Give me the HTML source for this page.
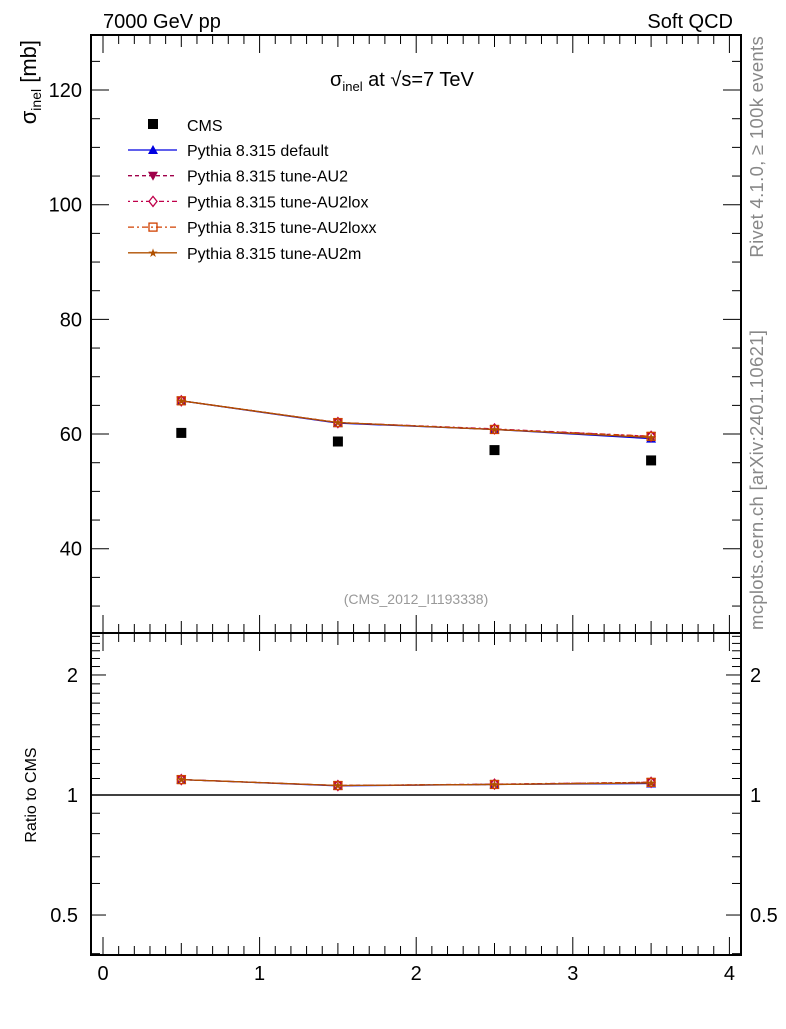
<!DOCTYPE html>
<html><head><meta charset="utf-8"><style>
body{margin:0;background:#fff;font-family:"Liberation Sans","DejaVu Sans",sans-serif}
svg text{font-family:"Liberation Sans","DejaVu Sans",sans-serif}
</style></head><body>
<svg id="c" width="786" height="1024" xmlns="http://www.w3.org/2000/svg">
<text x="103" y="28" font-size="20">7000 GeV pp</text>
<text x="733" y="28" font-size="20" text-anchor="end">Soft QCD</text>
<text x="330" y="86" font-size="20">σ<tspan font-size="13" dy="5">inel</tspan><tspan dy="-5"> at √s=7 TeV</tspan></text>
<text transform="translate(763,36) rotate(-90)" font-size="18.5" letter-spacing="0.3" fill="#888" text-anchor="end">Rivet 4.1.0, ≥ 100k events</text>
<text transform="translate(763,630) rotate(-90)" font-size="18.5" letter-spacing="0.3" fill="#888" text-anchor="start">mcplots.cern.ch [arXiv:2401.10621]</text>
<text x="416" y="604" font-size="14" fill="#999" text-anchor="middle">(CMS_2012_I1193338)</text>
<text transform="translate(36,40) rotate(-90)" font-size="22" text-anchor="end">σ<tspan font-size="14" dy="5">inel</tspan><tspan dy="-5"> [mb]</tspan></text>
<text transform="translate(36,795) rotate(-90)" font-size="16" text-anchor="middle">Ratio to CMS</text>
<g id="g"></g>
</svg>
<script>
const xCenters=[0.5,1.5,2.5,3.5];
const cms=[60.2,58.7,57.2,55.4];
const pDefault=[65.8,61.9,60.8,59.2];
const pAU2=[65.8,62.0,60.8,59.6];
const pAU2lox=[65.8,62.0,60.9,59.6];
const pAU2loxx=[65.8,62.0,60.8,59.6];
const pAU2m=[65.8,62.0,60.8,59.4];
const yTicks=[40,60,80,100,120];
const xTicks=[0,1,2,3,4];
const rTicks=[0.5,1,2];

const L=91,R=741,T=35,M=633,B=955;
const X=v=>103+v*156.6;
const Y=v=>T+(129.6-v)*(M-T)/(129.6-25.3);
const RY=v=>795-Math.log10(v)*398.7;
const g=document.getElementById('g');
const NS='http://www.w3.org/2000/svg';
function el(t,a,p){const e=document.createElementNS(NS,t);for(const k in a)e.setAttribute(k,a[k]);(p||g).appendChild(e);return e;}

let f=el('rect',{x:L,y:T,width:R-L,height:M-T,fill:'none',stroke:'#000','stroke-width':2});


f=el('rect',{x:L,y:M,width:R-L,height:B-M,fill:'none',stroke:'#000','stroke-width':2});



for(let v=30;v<=125;v+=5){const maj=v%20==0;const y=Y(v);
el('line',{x1:L,x2:L+(maj?18:9),y1:y,y2:y,stroke:'#000'});el('line',{x1:R,x2:R-(maj?18:9),y1:y,y2:y,stroke:'#000'});}
yTicks.forEach(v=>{const t=el('text',{x:82,y:Y(v)+7,'font-size':20,'text-anchor':'end'});t.textContent=v;

});
[0.4,0.5,0.6,0.7,0.8,0.9,1,1.1,1.2,1.3,1.4,1.5,1.6,1.7,1.8,1.9,2,2.1,2.2,2.3,2.4,2.5].forEach(v=>{const maj=rTicks.includes(v);const y=RY(v);
el('line',{x1:L,x2:L+(maj?15:9),y1:y,y2:y,stroke:'#000'});el('line',{x1:R,x2:R-(maj?15:9),y1:y,y2:y,stroke:'#000'});});
rTicks.forEach(v=>{let t=el('text',{x:78,y:RY(v)+7,'font-size':20,'text-anchor':'end'});t.textContent=v;


t=el('text',{x:750,y:RY(v)+7,'font-size':20});t.textContent=v;

});
for(let v=0;v<=4.001;v+=0.1){const maj=Math.abs(v-Math.round(v))<1e-6;const x=X(v);const h=maj?18:9;
[[T,1],[M,-1],[M,1],[B,-1]].forEach(([y0,d])=>el('line',{x1:x,x2:x,y1:y0,y2:y0+d*(maj?h:(Math.abs(v*2-Math.round(v*2))<1e-6?12:h)),stroke:'#000'}));}
xTicks.forEach(v=>{const t=el('text',{x:X(v),y:980,'font-size':20,'text-anchor':'middle'});t.textContent=v;

});
el('line',{x1:L,x2:R,y1:RY(1),y2:RY(1),stroke:'#000','stroke-width':1.5});

const series=[
 {d:pDefault,c:'#0000e0',dash:'',m:'tri',n:'pythia-default'},
 {d:pAU2,c:'#a0004a',dash:'4,3',m:'tridown',n:'pythia-au2'},
 {d:pAU2lox,c:'#c0004a',dash:'2,3,5,3',m:'diamond',n:'pythia-au2lox'},
 {d:pAU2loxx,c:'#d04000',dash:'6,3,2,3',m:'square',n:'pythia-au2loxx'},
 {d:pAU2m,c:'#b05000',dash:'',m:'star',n:'pythia-au2m'}];
function marker(type,x,y,c,p){
 if(type=='tri')return el('path',{d:`M${x-5},${y+4}L${x+5},${y+4}L${x},${y-5}Z`,fill:c},p);
 if(type=='tridown')return el('path',{d:`M${x-5},${y-4}L${x+5},${y-4}L${x},${y+5}Z`,fill:c},p);
 if(type=='diamond')return el('path',{d:`M${x},${y-5}L${x+4},${y}L${x},${y+5}L${x-4},${y}Z`,fill:'#fff',stroke:c,'stroke-width':1.3},p);
 if(type=='square')return el('rect',{x:x-4,y:y-4,width:8,height:8,fill:'none',stroke:c,'stroke-width':1.3},p);
 if(type=='star')return el('text',{x:x,y:y+4,'font-size':12,'text-anchor':'middle',fill:c},p);
 return el('rect',{x:x-5,y:y-5,width:10,height:10,fill:c},p);
}
series.forEach(s=>{
 const grp=el('g',{});
 
 
 el('polyline',{points:s.d.map((v,i)=>X(xCenters[i])+','+Y(v)).join(' '),fill:'none',stroke:s.c,'stroke-width':1.3,'stroke-dasharray':s.dash},grp);
 el('polyline',{points:s.d.map((v,i)=>X(xCenters[i])+','+RY(v/cms[i])).join(' '),fill:'none',stroke:s.c,'stroke-width':1.3,'stroke-dasharray':s.dash},grp);
 s.d.forEach((v,i)=>{let m=marker(s.m,X(xCenters[i]),Y(v),s.c,grp);if(s.m=='star')m.textContent='★';
  m=marker(s.m,X(xCenters[i]),RY(v/cms[i]),s.c,grp);if(s.m=='star')m.textContent='★';});
});
cms.forEach((v,i)=>{const m=marker('sq',X(xCenters[i]),Y(v),'#000');
 
 });

const leg=el('g',{});


marker('sq',153,124,'#000',leg);
let t=el('text',{x:187,y:131,'font-size':16},leg);t.textContent='CMS';
const labels=['Pythia 8.315 default','Pythia 8.315 tune-AU2','Pythia 8.315 tune-AU2lox','Pythia 8.315 tune-AU2loxx','Pythia 8.315 tune-AU2m'];
series.forEach((s,i)=>{const y=150+i*25.7;
 el('line',{x1:128,x2:177,y1:y,y2:y,stroke:s.c,'stroke-width':1.3,'stroke-dasharray':s.dash},leg);
 const m=marker(s.m,153,y,s.c,leg);if(s.m=='star')m.textContent='★';
 const tt=el('text',{x:187,y:y+6,'font-size':16},leg);tt.textContent=labels[i];
 
 });
</script>
</body></html>
